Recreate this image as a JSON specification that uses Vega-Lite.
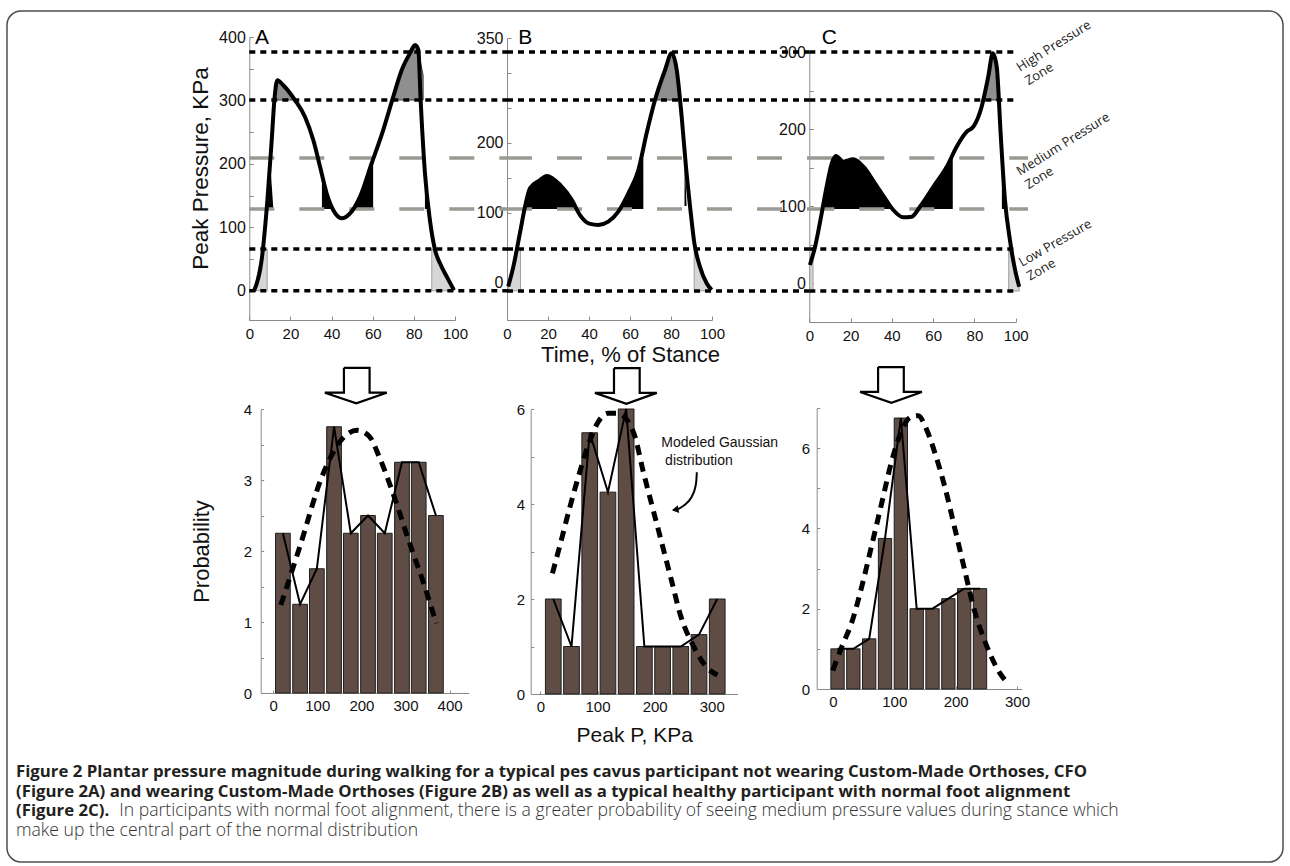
{
  "$schema": "https://vega.github.io/schema/vega-lite/v6.json",
  "background": "white",
  "width": 1290,
  "height": 866,
  "autosize": "none",
  "padding": 0,
  "config": {
    "view": {"stroke": null},
    "axis": {"labelFont": "Liberation Sans", "titleFont": "Liberation Sans", "labelColor": "#111111", "titleColor": "#111111", "domainColor": "#8a8a8a", "tickColor": "#8a8a8a", "grid": false, "titleFontWeight": "normal", "labelFlush": false, "labelOverlap": false},
    "text": {"font": "Liberation Sans"}
  },
  "datasets": {
    "cA": [{"x":2.3,"y":0},{"x":6,"y":48.5},{"x":8.8,"y":143},{"x":10.9,"y":237.6},{"x":12.2,"y":300.7},{"x":13.6,"y":332},{"x":16.5,"y":324},{"x":22.2,"y":300.7},{"x":27.1,"y":274},{"x":31.1,"y":237.6},{"x":34.4,"y":195.6},{"x":37.6,"y":153.7},{"x":40.8,"y":127.3},{"x":44.9,"y":114.3},{"x":49,"y":122},{"x":53.8,"y":148},{"x":59.5,"y":201},{"x":65.1,"y":253.4},{"x":70,"y":306},{"x":74.1,"y":348},{"x":78.1,"y":374.3},{"x":80.6,"y":387.4},{"x":82.2,"y":379.5},{"x":83.3,"y":300.7},{"x":85.4,"y":185},{"x":87.8,"y":111.6},{"x":90.3,"y":64.3},{"x":92.7,"y":43.3},{"x":96,"y":22.3},{"x":99.5,"y":1}],
    "cB": [{"x":0.6,"y":-5.2},{"x":3.1,"y":23.3},{"x":6.3,"y":71},{"x":8.8,"y":109},{"x":11.2,"y":135.3},{"x":16.1,"y":147},{"x":19.4,"y":152.9},{"x":25.9,"y":140},{"x":31.6,"y":118.6},{"x":35.6,"y":97},{"x":40.5,"y":84.3},{"x":44.5,"y":82.9},{"x":49.4,"y":87.6},{"x":54.3,"y":101.9},{"x":59.2,"y":128.1},{"x":64.1,"y":161.4},{"x":68.1,"y":213.9},{"x":72.2,"y":261.4},{"x":77.1,"y":304.3},{"x":80.3,"y":328.1},{"x":82.8,"y":304.3},{"x":85.2,"y":237.6},{"x":87.3,"y":166.1},{"x":89.3,"y":109},{"x":91.4,"y":56.7},{"x":94.1,"y":23.3},{"x":97.4,"y":-0.5},{"x":99.8,"y":-10}],
    "cC": [{"x":0.3,"y":23.4},{"x":2.8,"y":47.2},{"x":6,"y":90.5},{"x":8.4,"y":125},{"x":10.9,"y":155.5},{"x":12.9,"y":165},{"x":16.5,"y":157.6},{"x":21.3,"y":160.6},{"x":26.2,"y":151},{"x":31.8,"y":129.5},{"x":36.7,"y":110},{"x":40.7,"y":94.8},{"x":45.5,"y":85.3},{"x":49.6,"y":86.1},{"x":53.6,"y":99.1},{"x":60.1,"y":125},{"x":66.6,"y":151},{"x":71.4,"y":177},{"x":76.3,"y":196.5},{"x":79.5,"y":203},{"x":83.5,"y":229},{"x":86.7,"y":268},{"x":88.9,"y":298.3},{"x":90.8,"y":281},{"x":92.7,"y":194.4},{"x":94.8,"y":107.8},{"x":97.2,"y":56},{"x":99.7,"y":17},{"x":101.7,"y":-4.8}],
    "fA": [
      {"r":"a1","k":"med","x":8.6,"lo":128.9,"hi":128.9},{"r":"a1","k":"med","x":10.0,"lo":128.9,"hi":209.3},{"r":"a1","k":"med","x":11.7,"lo":128.9,"hi":128.9},
      {"r":"a2","k":"med","x":35.3,"lo":128.9,"hi":128.9},{"r":"a2","k":"med","x":35.31,"lo":128.9,"hi":184},{"r":"a2","k":"med","x":37.6,"lo":128.9,"hi":153},{"r":"a2","k":"med","x":40.5,"lo":128.9,"hi":128.9},
      {"r":"a3","k":"med","x":50.3,"lo":128.9,"hi":128.9},{"r":"a3","k":"med","x":53.8,"lo":128.9,"hi":148},{"r":"a3","k":"med","x":57,"lo":128.9,"hi":172},{"r":"a3","k":"med","x":59.6,"lo":128.9,"hi":203},{"r":"a3","k":"med","x":60.2,"lo":128.9,"hi":209.3},
      {"r":"a4","k":"med","x":85.4,"lo":128.9,"hi":128.9},{"r":"a4","k":"med","x":85.41,"lo":128.9,"hi":185},{"r":"a4","k":"med","x":87.4,"lo":128.9,"hi":128.9},
      {"r":"h1","k":"high","x":12.0,"lo":300.7,"hi":300.7},{"r":"h1","k":"high","x":13.6,"lo":300.7,"hi":332},{"r":"h1","k":"high","x":16.5,"lo":300.7,"hi":324},{"r":"h1","k":"high","x":19.5,"lo":300.7,"hi":313},{"r":"h1","k":"high","x":22.2,"lo":300.7,"hi":300.7},
      {"r":"h2","k":"high","x":69.7,"lo":300.7,"hi":300.7},{"r":"h2","k":"high","x":74.1,"lo":300.7,"hi":348},{"r":"h2","k":"high","x":78.1,"lo":300.7,"hi":374},{"r":"h2","k":"high","x":80.6,"lo":300.7,"hi":386},{"r":"h2","k":"high","x":82.5,"lo":300.7,"hi":372},{"r":"h2","k":"high","x":84.5,"lo":300.7,"hi":340},{"r":"h2","k":"high","x":84.51,"lo":300.7,"hi":300.7},
      {"r":"l1","k":"low","x":2.3,"lo":0,"hi":0},{"r":"l1","k":"low","x":6.5,"lo":0,"hi":65.9},{"r":"l1","k":"low","x":8.7,"lo":0,"hi":65.9},
      {"r":"l2","k":"low","x":88.7,"lo":0,"hi":0},{"r":"l2","k":"low","x":88.71,"lo":0,"hi":65.9},{"r":"l2","k":"low","x":90.3,"lo":0,"hi":64},{"r":"l2","k":"low","x":92.7,"lo":0,"hi":43},{"r":"l2","k":"low","x":96,"lo":0,"hi":22},{"r":"l2","k":"low","x":99.5,"lo":0,"hi":0}
    ],
    "fB": [
      {"r":"b1","k":"med","x":8.5,"lo":105.7,"hi":105.7},{"r":"b1","k":"med","x":11.2,"lo":105.7,"hi":135},{"r":"b1","k":"med","x":16.1,"lo":105.7,"hi":147},{"r":"b1","k":"med","x":19.4,"lo":105.7,"hi":153},{"r":"b1","k":"med","x":25.9,"lo":105.7,"hi":140},{"r":"b1","k":"med","x":31.6,"lo":105.7,"hi":118.6},{"r":"b1","k":"med","x":33.6,"lo":105.7,"hi":105.7},
      {"r":"b2","k":"med","x":55.2,"lo":105.7,"hi":105.7},{"r":"b2","k":"med","x":59.2,"lo":105.7,"hi":128},{"r":"b2","k":"med","x":64.1,"lo":105.7,"hi":161},{"r":"b2","k":"med","x":66.5,"lo":105.7,"hi":178.6},{"r":"b2","k":"med","x":66.51,"lo":105.7,"hi":105.7},
      {"r":"b3","k":"med","x":86.6,"lo":110,"hi":110},{"r":"b3","k":"med","x":86.61,"lo":110,"hi":178},{"r":"b3","k":"med","x":87.6,"lo":110,"hi":110},
      {"r":"bh","k":"high","x":71.6,"lo":261.4,"hi":261.4},{"r":"bh","k":"high","x":77.1,"lo":261.4,"hi":304},{"r":"bh","k":"high","x":80.3,"lo":261.4,"hi":328},{"r":"bh","k":"high","x":82.8,"lo":261.4,"hi":304},{"r":"bh","k":"high","x":84.6,"lo":261.4,"hi":261.4},
      {"r":"bl1","k":"low","x":0.6,"lo":-11.4,"hi":-5},{"r":"bl1","k":"low","x":5.0,"lo":-11.4,"hi":48.6},{"r":"bl1","k":"low","x":6.6,"lo":-11.4,"hi":48.6},
      {"r":"bl2","k":"low","x":91.3,"lo":-11.4,"hi":-11.4},{"r":"bl2","k":"low","x":91.31,"lo":-11.4,"hi":48.6},{"r":"bl2","k":"low","x":94.1,"lo":-11.4,"hi":23.3},{"r":"bl2","k":"low","x":97.4,"lo":-11.4,"hi":-0.5},{"r":"bl2","k":"low","x":99.6,"lo":-11.4,"hi":-11.4}
    ],
    "fC": [
      {"r":"c1","k":"med","x":6.3,"lo":96.1,"hi":96.1},{"r":"c1","k":"med","x":8.4,"lo":96.1,"hi":125},{"r":"c1","k":"med","x":10.9,"lo":96.1,"hi":155.5},{"r":"c1","k":"med","x":12.9,"lo":96.1,"hi":164},{"r":"c1","k":"med","x":16.5,"lo":96.1,"hi":157.6},{"r":"c1","k":"med","x":21.3,"lo":96.1,"hi":160.6},{"r":"c1","k":"med","x":26.2,"lo":96.1,"hi":151},{"r":"c1","k":"med","x":31.8,"lo":96.1,"hi":129.5},{"r":"c1","k":"med","x":36.7,"lo":96.1,"hi":110},{"r":"c1","k":"med","x":40.5,"lo":96.1,"hi":96.1},
      {"r":"c2","k":"med","x":52.5,"lo":96.1,"hi":96.1},{"r":"c2","k":"med","x":56,"lo":96.1,"hi":108},{"r":"c2","k":"med","x":60.1,"lo":96.1,"hi":125},{"r":"c2","k":"med","x":66.6,"lo":96.1,"hi":151},{"r":"c2","k":"med","x":69.5,"lo":96.1,"hi":163},{"r":"c2","k":"med","x":69.51,"lo":96.1,"hi":96.1},
      {"r":"c3","k":"med","x":93.3,"lo":96.1,"hi":96.1},{"r":"c3","k":"med","x":93.31,"lo":96.1,"hi":165},{"r":"c3","k":"med","x":95.2,"lo":96.1,"hi":96.1},
      {"r":"ch","k":"high","x":84.6,"lo":237.7,"hi":237.7},{"r":"ch","k":"high","x":86.7,"lo":237.7,"hi":268},{"r":"ch","k":"high","x":88.9,"lo":237.7,"hi":298},{"r":"ch","k":"high","x":90.8,"lo":237.7,"hi":281},{"r":"ch","k":"high","x":91.6,"lo":237.7,"hi":237.7},
      {"r":"cl1","k":"low","x":0.2,"lo":-10.4,"hi":22},{"r":"cl1","k":"low","x":1.8,"lo":-10.4,"hi":30},
      {"r":"cl2","k":"low","x":96.6,"lo":-10.4,"hi":-10.4},{"r":"cl2","k":"low","x":96.61,"lo":-10.4,"hi":44.2},{"r":"cl2","k":"low","x":99.7,"lo":-10.4,"hi":17},{"r":"cl2","k":"low","x":101.7,"lo":-10.4,"hi":-4.8}
    ],
    "zA": [{"level":376.4,"kind":"dot"},{"level":300.7,"kind":"dot"},{"level":209.3,"kind":"dash"},{"level":128.9,"kind":"dash"},{"level":65.9,"kind":"dot"},{"level":0,"kind":"dot"}],
    "zB": [{"level":330,"kind":"dot"},{"level":261.4,"kind":"dot"},{"level":178.6,"kind":"dash"},{"level":105.7,"kind":"dash"},{"level":48.6,"kind":"dot"},{"level":-11.4,"kind":"dot"}],
    "zC": [{"level":300,"kind":"dot"},{"level":237.7,"kind":"dot"},{"level":162.3,"kind":"dash"},{"level":96.1,"kind":"dash"},{"level":44.2,"kind":"dot"},{"level":-10.4,"kind":"dot"}],
    "hA": [{"peak":22,"prob":2.25},{"peak":61,"prob":1.25},{"peak":99,"prob":1.75},{"peak":138,"prob":3.75},{"peak":176,"prob":2.25},{"peak":215,"prob":2.5},{"peak":253,"prob":2.25},{"peak":292,"prob":3.25},{"peak":330,"prob":3.25},{"peak":369,"prob":2.5}],
    "hB": [{"peak":22.5,"prob":2},{"peak":54.4,"prob":1},{"peak":86.3,"prob":5.5},{"peak":118.2,"prob":4.25},{"peak":150.1,"prob":6},{"peak":182,"prob":1},{"peak":213.9,"prob":1},{"peak":245.8,"prob":1},{"peak":277.7,"prob":1.25},{"peak":309.6,"prob":2}],
    "hC": [{"peak":7.5,"prob":1},{"peak":33.3,"prob":1},{"peak":59.1,"prob":1.25},{"peak":84.9,"prob":3.75},{"peak":110.7,"prob":6.75},{"peak":136.5,"prob":2},{"peak":162.3,"prob":2},{"peak":188.1,"prob":2.25},{"peak":213.9,"prob":2.5},{"peak":239.7,"prob":2.5}],
    "gA": [{"peak":17.3,"dens":1.24},{"peak":60.4,"dens":2.06},{"peak":110.7,"dens":3.05},{"peak":153.9,"dens":3.56},{"peak":189.9,"dens":3.7},{"peak":218.6,"dens":3.61},{"peak":240.2,"dens":3.33},{"peak":269,"dens":2.86},{"peak":312.1,"dens":2.06},{"peak":341,"dens":1.55},{"peak":369.7,"dens":0.98}],
    "gB": [{"peak":21,"dens":2.54},{"peak":35,"dens":3.17},{"peak":51.7,"dens":3.94},{"peak":68.3,"dens":4.65},{"peak":85,"dens":5.28},{"peak":101.7,"dens":5.74},{"peak":118.3,"dens":5.91},{"peak":135,"dens":5.91},{"peak":151.7,"dens":5.77},{"peak":165.5,"dens":5.42},{"peak":179.3,"dens":4.72},{"peak":196,"dens":3.94},{"peak":212.7,"dens":3.17},{"peak":229.3,"dens":2.4},{"peak":246,"dens":1.63},{"peak":268.3,"dens":1.0},{"peak":290.5,"dens":0.57},{"peak":310,"dens":0.4}],
    "gC": [{"peak":-0.3,"dens":0.46},{"peak":15.2,"dens":1.08},{"peak":30.7,"dens":1.66},{"peak":48.8,"dens":2.66},{"peak":64.3,"dens":3.65},{"peak":79.8,"dens":4.65},{"peak":95.3,"dens":5.65},{"peak":110.9,"dens":6.39},{"peak":126.4,"dens":6.77},{"peak":139.2,"dens":6.81},{"peak":152.2,"dens":6.48},{"peak":167.7,"dens":5.81},{"peak":183.3,"dens":4.98},{"peak":198.8,"dens":3.99},{"peak":214.3,"dens":2.99},{"peak":229.8,"dens":2.0},{"peak":250.4,"dens":1.08},{"peak":271,"dens":0.42},{"peak":286.5,"dens":0.12}],
    "arA": [{"i":1,"x":160.4,"y":4.58},{"i":2,"x":218.6,"y":4.58},{"i":3,"x":218.6,"y":4.23},{"i":4,"x":257.5,"y":4.23},{"i":5,"x":188.4,"y":4.08},{"i":6,"x":117.2,"y":4.23},{"i":7,"x":160.4,"y":4.23},{"i":8,"x":160.4,"y":4.58}],
    "arB": [{"i":1,"x":128.8,"y":6.86},{"i":2,"x":173.8,"y":6.86},{"i":3,"x":173.8,"y":6.34},{"i":4,"x":203.8,"y":6.34},{"i":5,"x":150.5,"y":6.11},{"i":6,"x":95.5,"y":6.34},{"i":7,"x":128.8,"y":6.34},{"i":8,"x":128.8,"y":6.86}],
    "arC": [{"i":1,"x":73.6,"y":8.02},{"i":2,"x":115.5,"y":8.02},{"i":3,"x":115.5,"y":7.4},{"i":4,"x":145,"y":7.4},{"i":5,"x":95.3,"y":7.13},{"i":6,"x":44.2,"y":7.4},{"i":7,"x":73.6,"y":7.4},{"i":8,"x":73.6,"y":8.02}],
    "curl": [{"i":1,"x":273.8,"y":4.67},{"i":2,"x":273,"y":4.38},{"i":3,"x":265.5,"y":4.13},{"i":4,"x":253.8,"y":3.98},{"i":5,"x":240.5,"y":3.89}],
    "cap": [
      {"line":1,"part":"b","text":"Figure 2 Plantar pressure magnitude during walking for a typical pes cavus participant not wearing Custom-Made Orthoses, CFO"},
      {"line":2,"part":"b","text":"(Figure 2A) and wearing Custom-Made Orthoses (Figure 2B) as well as a typical healthy participant with normal foot alignment"},
      {"line":3,"part":"b","text":"(Figure 2C)."},
      {"line":3,"part":"r1","text":"In participants with normal foot alignment, there is a greater probability of seeing medium pressure values during stance which"},
      {"line":4,"part":"r2","text":"make up the central part of the normal distribution"}
    ]
  },
  "resolve": {"scale": {"x": "independent", "y": "independent"}},
  "layer": [
    {
      "layer": [
        {"data": {"name": "fA"}, "transform": [{"filter": "datum.k === 'low'"}],
         "mark": {"type": "area", "color": "#d6d6d6", "stroke": "#8c8c8c", "strokeWidth": 0.8},
         "encoding": {
           "x": {"field": "x", "type": "quantitative", "scale": {"domain": [0, 100], "range": [249.3, 455], "nice": false, "zero": false},
                 "axis": {"orient": "bottom", "offset": -546, "values": [0,20,40,60,80,100], "title": null, "tickSize": -4, "labelPadding": 10, "labelFontSize": 15}},
           "y": {"field": "lo", "type": "quantitative", "scale": {"domain": [-46, 400], "range": [320, 37], "nice": false, "zero": false},
                 "axis": {"orient": "left", "offset": -249.3, "values": [0,50,100,150,200,250,300,350,400], "labelExpr": "datum.value % 100 === 0 ? datum.label : ''", "tickSize": -4, "labelPadding": 8, "labelFontSize": 16, "title": "Peak Pressure, KPa", "titleFontSize": 22.5, "titlePadding": 6, "titleY": 168}},
           "y2": {"field": "hi"}, "detail": {"field": "r"}}},
        {"data": {"name": "fA"}, "transform": [{"filter": "datum.k === 'high'"}],
         "mark": {"type": "area", "color": "#8f8f8f", "stroke": "#3d3d3d", "strokeWidth": 1},
         "encoding": {"x": {"field": "x", "type": "quantitative"}, "y": {"field": "lo", "type": "quantitative"}, "y2": {"field": "hi"}, "detail": {"field": "r"}}},
        {"data": {"name": "fA"}, "transform": [{"filter": "datum.k === 'med'"}],
         "mark": {"type": "area", "color": "black"},
         "encoding": {"x": {"field": "x", "type": "quantitative"}, "y": {"field": "lo", "type": "quantitative"}, "y2": {"field": "hi"}, "detail": {"field": "r"}}},
        {"data": {"name": "zA"}, "transform": [{"filter": "datum.kind === 'dash'"}],
         "mark": {"type": "rule", "color": "#9a9a94", "strokeWidth": 3.5, "strokeDash": [25, 25]},
         "encoding": {"x": {"datum": 0}, "x2": {"datum": 125.3}, "y": {"field": "level", "type": "quantitative"}}},
        {"data": {"name": "zA"}, "transform": [{"filter": "datum.kind === 'dot'"}],
         "mark": {"type": "rule", "color": "black", "strokeWidth": 3.5, "strokeDash": [6, 5]},
         "encoding": {"x": {"datum": 0}, "x2": {"datum": 125.3}, "y": {"field": "level", "type": "quantitative"}}},
        {"data": {"name": "cA"},
         "mark": {"type": "line", "color": "black", "strokeWidth": 4, "interpolate": "monotone", "strokeJoin": "round"},
         "encoding": {"x": {"field": "x", "type": "quantitative"}, "y": {"field": "y", "type": "quantitative"}}},
        {"data": {"values": [{"t": "A"}]},
         "mark": {"type": "text", "fontSize": 21, "align": "left", "baseline": "middle", "color": "black"},
         "encoding": {"x": {"datum": 2.8}, "y": {"datum": 398.4}, "text": {"field": "t"}}}
      ]
    },
    {
      "layer": [
        {"data": {"name": "fB"}, "transform": [{"filter": "datum.k === 'low'"}],
         "mark": {"type": "area", "color": "#d6d6d6", "stroke": "#8c8c8c", "strokeWidth": 0.8},
         "encoding": {
           "x": {"field": "x", "type": "quantitative", "scale": {"domain": [0, 100], "range": [507, 712], "nice": false, "zero": false},
                 "axis": {"orient": "bottom", "offset": -546, "values": [0,20,40,60,80,100], "title": "Time, % of Stance", "titleFontSize": 22, "titleX": 630, "titlePadding": 3, "tickSize": -4, "labelPadding": 10, "labelFontSize": 15}},
           "y": {"field": "lo", "type": "quantitative", "scale": {"domain": [-53, 350], "range": [320, 38], "nice": false, "zero": false},
                 "axis": {"orient": "left", "offset": -507, "values": [0,50,100,150,200,250,300,350], "labelExpr": "indexof([0,100,200,350], datum.value) >= 0 ? datum.label : ''", "tickSize": -4, "labelPadding": 8, "labelFontSize": 16, "title": null}},
           "y2": {"field": "hi"}, "detail": {"field": "r"}}},
        {"data": {"name": "fB"}, "transform": [{"filter": "datum.k === 'high'"}],
         "mark": {"type": "area", "color": "#8f8f8f", "stroke": "#3d3d3d", "strokeWidth": 1},
         "encoding": {"x": {"field": "x", "type": "quantitative"}, "y": {"field": "lo", "type": "quantitative"}, "y2": {"field": "hi"}, "detail": {"field": "r"}}},
        {"data": {"name": "fB"}, "transform": [{"filter": "datum.k === 'med'"}],
         "mark": {"type": "area", "color": "black"},
         "encoding": {"x": {"field": "x", "type": "quantitative"}, "y": {"field": "lo", "type": "quantitative"}, "y2": {"field": "hi"}, "detail": {"field": "r"}}},
        {"data": {"name": "zB"}, "transform": [{"filter": "datum.kind === 'dash'"}],
         "mark": {"type": "rule", "color": "#9a9a94", "strokeWidth": 3.5, "strokeDash": [25, 25]},
         "encoding": {"x": {"datum": 0}, "x2": {"datum": 147.5}, "y": {"field": "level", "type": "quantitative"}}},
        {"data": {"name": "zB"}, "transform": [{"filter": "datum.kind === 'dot'"}],
         "mark": {"type": "rule", "color": "black", "strokeWidth": 3.5, "strokeDash": [6, 5]},
         "encoding": {"x": {"datum": 0}, "x2": {"datum": 147.5}, "y": {"field": "level", "type": "quantitative"}}},
        {"data": {"name": "cB"},
         "mark": {"type": "line", "color": "black", "strokeWidth": 4, "interpolate": "monotone", "strokeJoin": "round"},
         "encoding": {"x": {"field": "x", "type": "quantitative"}, "y": {"field": "y", "type": "quantitative"}}},
        {"data": {"values": [{"t": "B"}]},
         "mark": {"type": "text", "fontSize": 21, "align": "left", "baseline": "middle", "color": "black"},
         "encoding": {"x": {"datum": 5.5}, "y": {"datum": 350}, "text": {"field": "t"}}}
      ]
    },
    {
      "layer": [
        {"data": {"name": "fC"}, "transform": [{"filter": "datum.k === 'low'"}],
         "mark": {"type": "area", "color": "#d6d6d6", "stroke": "#8c8c8c", "strokeWidth": 0.8},
         "encoding": {
           "x": {"field": "x", "type": "quantitative", "scale": {"domain": [0, 100], "range": [809.3, 1015.7], "nice": false, "zero": false},
                 "axis": {"orient": "bottom", "offset": -544, "values": [0,20,40,60,80,100], "title": null, "tickSize": -4, "labelPadding": 10, "labelFontSize": 15}},
           "y": {"field": "lo", "type": "quantitative", "scale": {"domain": [-50.6, 300], "range": [322, 52], "nice": false, "zero": false},
                 "axis": {"orient": "left", "offset": -809.3, "values": [0,50,100,150,200,250,300], "labelExpr": "datum.value % 100 === 0 ? datum.label : ''", "tickSize": -4, "labelPadding": 8, "labelFontSize": 16, "title": null}},
           "y2": {"field": "hi"}, "detail": {"field": "r"}}},
        {"data": {"name": "fC"}, "transform": [{"filter": "datum.k === 'high'"}],
         "mark": {"type": "area", "color": "#8f8f8f", "stroke": "#3d3d3d", "strokeWidth": 1},
         "encoding": {"x": {"field": "x", "type": "quantitative"}, "y": {"field": "lo", "type": "quantitative"}, "y2": {"field": "hi"}, "detail": {"field": "r"}}},
        {"data": {"name": "fC"}, "transform": [{"filter": "datum.k === 'med'"}],
         "mark": {"type": "area", "color": "black"},
         "encoding": {"x": {"field": "x", "type": "quantitative"}, "y": {"field": "lo", "type": "quantitative"}, "y2": {"field": "hi"}, "detail": {"field": "r"}}},
        {"data": {"name": "zC"}, "transform": [{"filter": "datum.kind === 'dash'"}],
         "mark": {"type": "rule", "color": "#9a9a94", "strokeWidth": 3.5, "strokeDash": [25, 25]},
         "encoding": {"x": {"datum": 0}, "x2": {"datum": 106}, "y": {"field": "level", "type": "quantitative"}}},
        {"data": {"name": "zC"}, "transform": [{"filter": "datum.kind === 'dot'"}],
         "mark": {"type": "rule", "color": "black", "strokeWidth": 3.5, "strokeDash": [6, 5]},
         "encoding": {"x": {"datum": 0}, "x2": {"datum": 100.6}, "y": {"field": "level", "type": "quantitative"}}},
        {"data": {"name": "cC"},
         "mark": {"type": "line", "color": "black", "strokeWidth": 4, "interpolate": "monotone", "strokeJoin": "round"},
         "encoding": {"x": {"field": "x", "type": "quantitative"}, "y": {"field": "y", "type": "quantitative"}}},
        {"data": {"values": [{"t": "C"}]},
         "mark": {"type": "text", "fontSize": 21, "align": "left", "baseline": "middle", "color": "black"},
         "encoding": {"x": {"datum": 6}, "y": {"datum": 318.2}, "text": {"field": "t"}}},
        {"data": {"values": [{"t": "High Pressure\nZone"}]},
         "mark": {"type": "text", "font": "Open Sans", "fontSize": 13, "align": "left", "baseline": "alphabetic", "angle": 328, "lineBreak": "\n", "lineHeight": 16, "color": "#222222"},
         "encoding": {"x": {"datum": 102.1}, "y": {"datum": 274}, "text": {"field": "t"}}},
        {"data": {"values": [{"t": "Medium Pressure\nZone"}]},
         "mark": {"type": "text", "font": "Open Sans", "fontSize": 13, "align": "left", "baseline": "alphabetic", "angle": 328, "lineBreak": "\n", "lineHeight": 16, "color": "#222222"},
         "encoding": {"x": {"datum": 102.1}, "y": {"datum": 139}, "text": {"field": "t"}}},
        {"data": {"values": [{"t": "Low Pressure\nZone"}]},
         "mark": {"type": "text", "font": "Open Sans", "fontSize": 13, "align": "left", "baseline": "alphabetic", "angle": 330, "lineBreak": "\n", "lineHeight": 16, "color": "#222222"},
         "encoding": {"x": {"datum": 103.1}, "y": {"datum": 20.8}, "text": {"field": "t"}}}
      ]
    },
    {
      "layer": [
        {"data": {"name": "hA"},
         "mark": {"type": "bar", "orient": "vertical", "color": "#5f4d45", "stroke": "#1e1e1e", "strokeWidth": 1, "size": 14.7},
         "encoding": {
           "x": {"field": "peak", "type": "quantitative", "scale": {"domain": [-17, 432], "range": [260.7, 468.7], "nice": false, "zero": false},
                 "axis": {"orient": "bottom", "offset": -173, "values": [0,100,200,300,400], "title": null, "tickSize": -3, "labelPadding": 8, "labelFontSize": 15}},
           "y": {"field": "prob", "type": "quantitative", "stack": null, "scale": {"domain": [0, 4], "range": [693, 409], "nice": false, "zero": false},
                 "axis": {"orient": "left", "offset": -260.7, "values": [0,0.5,1,1.5,2,2.5,3,3.5,4], "labelExpr": "datum.value % 1 === 0 ? format(datum.value, 'd') : ''", "tickSize": -3, "labelPadding": 12, "labelFontSize": 15, "title": "Probability", "titleFontSize": 22, "titlePadding": 30}}}},
        {"data": {"name": "hA"},
         "mark": {"type": "line", "color": "black", "strokeWidth": 2},
         "encoding": {"x": {"field": "peak", "type": "quantitative"}, "y": {"field": "prob", "type": "quantitative"}}},
        {"data": {"name": "gA"},
         "mark": {"type": "line", "color": "black", "strokeWidth": 5, "strokeDash": [10, 7], "interpolate": "monotone"},
         "encoding": {"x": {"field": "peak", "type": "quantitative"}, "y": {"field": "dens", "type": "quantitative"}}},
        {"data": {"name": "arA"},
         "mark": {"type": "line", "color": "black", "strokeWidth": 2.2, "strokeJoin": "miter"},
         "encoding": {"x": {"field": "x", "type": "quantitative"}, "y": {"field": "y", "type": "quantitative"}, "order": {"field": "i"}}}
      ]
    },
    {
      "layer": [
        {"data": {"name": "hB"},
         "mark": {"type": "bar", "orient": "vertical", "color": "#5f4d45", "stroke": "#1e1e1e", "strokeWidth": 1, "size": 15.7},
         "encoding": {
           "x": {"field": "peak", "type": "quantitative", "scale": {"domain": [-8.3, 336.7], "range": [530.7, 737.7], "nice": false, "zero": false},
                 "axis": {"orient": "bottom", "offset": -172, "values": [0,100,200,300], "title": "Peak P, KPa", "titleFontSize": 21, "titlePadding": 10, "tickSize": -3, "labelPadding": 8, "labelFontSize": 15}},
           "y": {"field": "prob", "type": "quantitative", "stack": null, "scale": {"domain": [0, 6], "range": [694, 409], "nice": false, "zero": false},
                 "axis": {"orient": "left", "offset": -530.7, "values": [0,1,2,3,4,5,6], "labelExpr": "datum.value % 2 === 0 ? format(datum.value, 'd') : ''", "tickSize": -3, "labelPadding": 9, "labelFontSize": 15, "title": null}}}},
        {"data": {"name": "hB"},
         "mark": {"type": "line", "color": "black", "strokeWidth": 2},
         "encoding": {"x": {"field": "peak", "type": "quantitative"}, "y": {"field": "prob", "type": "quantitative"}}},
        {"data": {"name": "gB"},
         "mark": {"type": "line", "color": "black", "strokeWidth": 5, "strokeDash": [10, 7], "interpolate": "monotone"},
         "encoding": {"x": {"field": "peak", "type": "quantitative"}, "y": {"field": "dens", "type": "quantitative"}}},
        {"data": {"name": "arB"},
         "mark": {"type": "line", "color": "black", "strokeWidth": 2.2, "strokeJoin": "miter"},
         "encoding": {"x": {"field": "x", "type": "quantitative"}, "y": {"field": "y", "type": "quantitative"}, "order": {"field": "i"}}},
        {"data": {"name": "curl"},
         "mark": {"type": "line", "color": "black", "strokeWidth": 2, "interpolate": "basis"},
         "encoding": {"x": {"field": "x", "type": "quantitative"}, "y": {"field": "y", "type": "quantitative"}, "order": {"field": "i"}}},
        {"data": {"values": [{"a": 1}]},
         "mark": {"type": "point", "shape": "triangle-left", "size": 60, "filled": true, "color": "black", "opacity": 1, "angle": 350},
         "encoding": {"x": {"datum": 236}, "y": {"datum": 3.88}}},
        {"data": {"values": [{"t": "Modeled Gaussian"}]},
         "mark": {"type": "text", "fontSize": 14, "align": "left", "baseline": "middle", "color": "#111111"},
         "encoding": {"x": {"datum": 211.7}, "y": {"datum": 5.28}, "text": {"field": "t"}}},
        {"data": {"values": [{"t": "distribution"}]},
         "mark": {"type": "text", "fontSize": 14, "align": "left", "baseline": "middle", "color": "#111111"},
         "encoding": {"x": {"datum": 218.3}, "y": {"datum": 4.91}, "text": {"field": "t"}}}
      ]
    },
    {
      "layer": [
        {"data": {"name": "hC"},
         "mark": {"type": "bar", "orient": "vertical", "color": "#5f4d45", "stroke": "#1e1e1e", "strokeWidth": 1, "size": 13.3},
         "encoding": {
           "x": {"field": "peak", "type": "quantitative", "scale": {"domain": [-18.3, 300], "range": [816.7, 1022], "nice": false, "zero": false},
                 "axis": {"orient": "bottom", "offset": -177, "values": [0,100,200,300], "title": null, "tickSize": -3, "labelPadding": 8, "labelFontSize": 15}},
           "y": {"field": "prob", "type": "quantitative", "stack": null, "scale": {"domain": [0, 7], "range": [689, 408], "nice": false, "zero": false},
                 "axis": {"orient": "left", "offset": -816.7, "values": [0,1,2,3,4,5,6,7], "labelExpr": "datum.value % 2 === 0 ? format(datum.value, 'd') : ''", "tickSize": -3, "labelPadding": 10, "labelFontSize": 15, "title": null}}}},
        {"data": {"name": "hC"},
         "mark": {"type": "line", "color": "black", "strokeWidth": 2},
         "encoding": {"x": {"field": "peak", "type": "quantitative"}, "y": {"field": "prob", "type": "quantitative"}}},
        {"data": {"name": "gC"},
         "mark": {"type": "line", "color": "black", "strokeWidth": 5, "strokeDash": [10, 7], "interpolate": "monotone"},
         "encoding": {"x": {"field": "peak", "type": "quantitative"}, "y": {"field": "dens", "type": "quantitative"}}},
        {"data": {"name": "arC"},
         "mark": {"type": "line", "color": "black", "strokeWidth": 2.2, "strokeJoin": "miter"},
         "encoding": {"x": {"field": "x", "type": "quantitative"}, "y": {"field": "y", "type": "quantitative"}, "order": {"field": "i"}}}
      ]
    },
    {
      "data": {"values": [{"a": 1}]},
      "mark": {"type": "rect", "filled": false, "color": "#4d4d4d", "strokeWidth": 1.5, "cornerRadius": 14},
      "encoding": {
        "x": {"datum": 0, "type": "quantitative", "scale": {"domain": [0, 1], "range": [7, 1283], "nice": false, "zero": false}, "axis": null},
        "x2": {"datum": 1},
        "y": {"datum": 0, "type": "quantitative", "scale": {"domain": [0, 1], "range": [11, 862], "nice": false, "zero": false}, "axis": null},
        "y2": {"datum": 1}
      }
    },
    {
      "data": {"name": "cap"},
      "layer": [
        {"transform": [{"filter": "datum.part === 'b'"}],
         "mark": {"type": "text", "font": "Open Sans", "fontWeight": "bold", "fontSize": 16.8, "align": "left", "baseline": "middle", "color": "#231f20"},
         "encoding": {
           "x": {"datum": 0, "type": "quantitative", "scale": {"domain": [0, 1], "range": [16, 1116], "nice": false, "zero": false}, "axis": null},
           "y": {"field": "line", "type": "quantitative", "scale": {"domain": [1, 4], "range": [772, 830.5], "nice": false, "zero": false}, "axis": null},
           "text": {"field": "text"}}},
        {"transform": [{"filter": "datum.part === 'r1'"}],
         "mark": {"type": "text", "font": "Open Sans", "fontWeight": 300, "fontSize": 17.6, "align": "left", "baseline": "middle", "color": "#333333", "dx": 103.3},
         "encoding": {
           "x": {"datum": 0, "type": "quantitative", "axis": null},
           "y": {"field": "line", "type": "quantitative", "axis": null},
           "text": {"field": "text"}}},
        {"transform": [{"filter": "datum.part === 'r2'"}],
         "mark": {"type": "text", "font": "Open Sans", "fontWeight": 300, "fontSize": 17.6, "align": "left", "baseline": "middle", "color": "#333333"},
         "encoding": {
           "x": {"datum": 0, "type": "quantitative", "axis": null},
           "y": {"field": "line", "type": "quantitative", "axis": null},
           "text": {"field": "text"}}}
      ]
    }
  ]
}
